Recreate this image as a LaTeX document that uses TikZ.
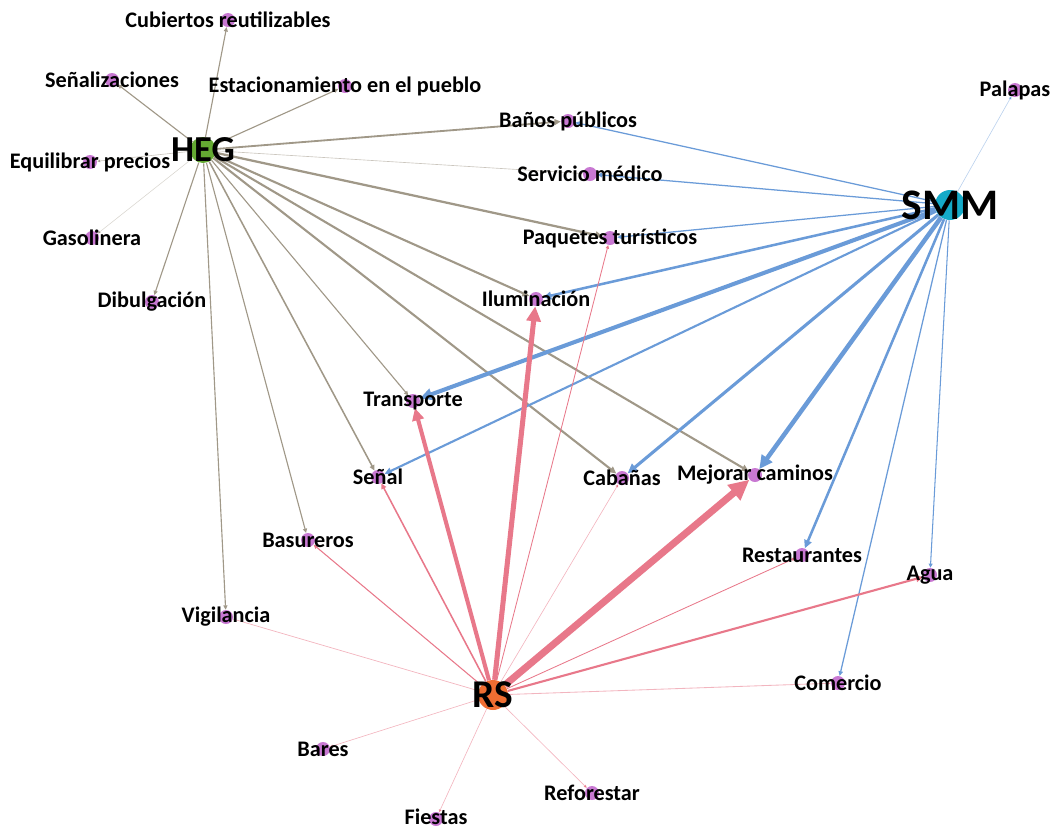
\documentclass[tikz,border=0pt]{standalone}
\usepackage{fontspec}
\setmainfont{Carlito}
\usetikzlibrary{arrows.meta}
\pgfdeclarelayer{bg}
\pgfsetlayers{bg,main}
\definecolor{cgrey}{RGB}{160,152,136}
\definecolor{cblue}{RGB}{106,155,216}
\definecolor{cpink}{RGB}{232,120,138}
\definecolor{cpurp}{RGB}{200,120,210}
\definecolor{cgreen}{RGB}{100,170,50}
\definecolor{ccyan}{RGB}{20,170,200}
\definecolor{corange}{RGB}{240,110,50}
\tikzset{
  pt/.style={circle,fill=cpurp,inner sep=0pt,minimum size=14*0.711pt},
  hub/.style={circle,inner sep=0pt,minimum size=26*0.711pt},
  lab/.style={font=\bfseries\fontsize{15.8}{18}\selectfont,text=black,inner sep=0pt},
  hublab/.style={font=\bfseries,text=black,inner sep=0pt},
  edge/.style={-{Triangle[angle=50:1pt 3]}},
  eg/.style={edge,draw=cgrey},
  eb/.style={edge,draw=cblue},
  ep/.style={edge,draw=cpink},
  lt/.style={draw opacity=0.55},
}
\begin{document}
\begin{tikzpicture}[x=0.025cm,y=-0.025cm]
\useasboundingbox (0,0) rectangle (1054,831);
% hubs
\node[hub,fill=cgreen] (heg) at (203,150) {};
\node[hub,fill=ccyan,minimum size=30*0.711pt] (smm) at (950,205) {};
\node[hub,fill=corange,minimum size=30*0.711pt] (rs) at (493,695) {};
% small nodes
\node[pt] (cub) at (228,20) {};
\node[pt] (sen) at (112,80) {};
\node[pt] (est) at (345,86) {};
\node[pt] (equ) at (90,162) {};
\node[pt] (gas) at (92,238) {};
\node[pt] (dib) at (152,302) {};
\node[pt] (ban) at (568,121) {};
\node[pt] (pal) at (1015,90) {};
\node[pt] (ser) at (590,174) {};
\node[pt] (paq) at (610,238) {};
\node[pt] (ilu) at (536,299) {};
\node[pt] (tra) at (413,401) {};
\node[pt] (snl) at (378,477) {};
\node[pt] (cab) at (622,478) {};
\node[pt] (mej) at (755,475) {};
\node[pt] (bas) at (308,540) {};
\node[pt] (res) at (802,555) {};
\node[pt] (agu) at (930,575) {};
\node[pt] (vig) at (226,617) {};
\node[pt] (com) at (838,683) {};
\node[pt] (bar) at (323,749) {};
\node[pt] (ref) at (592,793) {};
\node[pt] (fie) at (436,819) {};
\begin{pgfonlayer}{bg}
% HEG edges
\draw[eg,line width=0.8pt] (heg) -- (cub);
\draw[eg,line width=0.8pt] (heg) -- (sen);
\draw[eg,line width=0.8pt] (heg) -- (est);
\draw[eg,lt,line width=0.45pt] (heg) -- (equ);
\draw[eg,draw opacity=0.4,line width=0.4pt] (heg) -- (gas);
\draw[eg,line width=0.8pt] (heg) -- (dib);
\draw[eg,line width=1.3pt] (heg) -- (ban);
\draw[eg,lt,line width=0.45pt] (heg) -- (ser);
\draw[eg,line width=1.6pt] (heg) -- (paq);
\draw[eg,line width=1.5pt] (heg) -- (ilu);
\draw[eg,line width=0.8pt] (heg) -- (tra);
\draw[eg,line width=1.1pt] (heg) -- (snl);
\draw[eg,line width=1.5pt] (heg) -- (cab);
\draw[eg,line width=1.5pt] (heg) -- (mej);
\draw[eg,line width=0.8pt] (heg) -- (bas);
\draw[eg,line width=0.8pt] (heg) -- (vig);
% SMM edges
\draw[eb,draw opacity=0.45,line width=0.45pt] (smm) -- (pal);
\draw[eb,line width=0.9pt] (smm) -- (ban);
\draw[eb,line width=0.9pt] (smm) -- (ser);
\draw[eb,line width=0.9pt] (smm) -- (paq);
\draw[eb,line width=1.8pt] (smm) -- (ilu);
\draw[eb,line width=2.9pt] (smm) -- (tra);
\draw[eb,line width=1.5pt] (smm) -- (snl);
\draw[eb,line width=2.2pt] (smm) -- (cab);
\draw[eb,line width=3.2pt] (smm) -- (mej);
\draw[eb,line width=1.8pt] (smm) -- (res);
\draw[eb,line width=0.75pt] (smm) -- (agu);
\draw[eb,line width=0.9pt] (smm) -- (com);
% RS edges
\draw[ep,line width=2.9pt] (rs) -- (tra);
\draw[ep,line width=3.6pt] (rs) -- (ilu);
\draw[ep,line width=5pt] (rs) -- (mej);
\draw[ep,line width=1.1pt] (rs) -- (snl);
\draw[ep,line width=0.75pt] (rs) -- (bas);
\draw[ep,lt,line width=0.5pt] (rs) -- (vig);
\draw[ep,lt,line width=0.45pt] (rs) -- (bar);
\draw[ep,lt,line width=0.45pt] (rs) -- (fie);
\draw[ep,lt,line width=0.45pt] (rs) -- (ref);
\draw[ep,lt,line width=0.6pt] (rs) -- (com);
\draw[ep,line width=1.5pt] (rs) -- (agu);
\draw[ep,line width=0.6pt] (rs) -- (res);
\draw[ep,lt,line width=0.45pt] (rs) -- (cab);
\draw[ep,line width=0.6pt] (rs) -- (paq);
\end{pgfonlayer}
% labels
\node[lab] at (cub) {Cubiertos reutilizables};
\node[lab] at (sen) {Señalizaciones};
\node[lab] at (est) {Estacionamiento en el pueblo};
\node[lab] at (equ) {Equilibrar precios};
\node[lab] at (gas) {Gasolinera};
\node[lab] at (dib) {Dibulgación};
\node[lab] at (ban) {Baños públicos};
\node[lab] at (pal) {Palapas};
\node[lab] at (ser) {Servicio médico};
\node[lab] at (paq) {Paquetes turísticos};
\node[lab] at (ilu) {Iluminación};
\node[lab] at (tra) {Transporte};
\node[lab] at (snl) {Señal};
\node[lab] at (cab) {Cabañas};
\node[lab] at (mej) {Mejorar caminos};
\node[lab] at (bas) {Basureros};
\node[lab] at (res) {Restaurantes};
\node[lab] at (agu) {Agua};
\node[lab] at (vig) {Vigilancia};
\node[lab] at (com) {Comercio};
\node[lab] at (bar) {Bares};
\node[lab] at (ref) {Reforestar};
\node[lab,anchor=south] at ([yshift=-4pt]fie.center) {Fiestas};
\node[hublab,font=\bfseries\fontsize{26}{28}\selectfont] at (heg) {HEG};
\node[hublab,font=\bfseries\fontsize{31}{33}\selectfont] at (smm) {SMM};
\node[hublab,font=\bfseries\fontsize{28}{30}\selectfont] at (rs) {RS};
\end{tikzpicture}
\end{document}
